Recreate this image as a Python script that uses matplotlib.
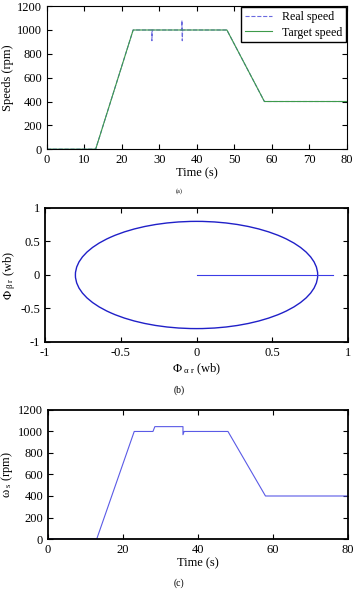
import numpy as np
import matplotlib
matplotlib.use("Agg")
import matplotlib.pyplot as plt
from matplotlib.patches import Ellipse

plt.rcParams['font.family'] = ['Liberation Serif', 'DejaVu Serif']
plt.rcParams['mathtext.fontset'] = 'stix'
plt.rcParams['xtick.direction'] = 'in'
plt.rcParams['ytick.direction'] = 'in'
plt.rcParams['xtick.top'] = True
plt.rcParams['ytick.right'] = True
plt.rcParams['font.size'] = 9

# --- (a) vitesses ---
t_cible = [0, 13, 23, 48, 58, 80]
v_cible = [0, 0, 1000, 1000, 400, 400]
t_reel = [0, 13, 23, 28, 28, 28.1, 36, 36, 36.1, 36.2, 48, 58, 80]
v_reel = [0, 0, 1000, 1000, 910, 1000, 1000, 1080, 910, 1000, 1000, 400, 400]

# --- (b) flux rotorique ---
rayon_flux = 0.8
flux_x = [0, 0.9]
flux_y = [0, 0]

# --- (c) vitesse statorique ---
t_ws = [0, 13, 23, 28, 28.5, 36, 36, 36.3, 48, 58, 80]
v_ws = [0, 0, 1000, 1000, 1045, 1045, 970, 1000, 1000, 400, 400]

fig = plt.figure(figsize=(3.58, 5.92), dpi=100)

# Graphique (a)
ax1 = fig.add_axes([0.131, 0.748, 0.838, 0.2416])
ax1.plot(t_reel, v_reel, '--', color='#6a6adf', lw=0.8, label='Real speed')
ax1.plot(t_cible, v_cible, '-', color='#3d9a4a', lw=0.8, label='Target speed')
ax1.set_xlim(0, 80)
ax1.set_ylim(0, 1200)
ax1.set_xticks(range(0, 81, 10))
ax1.set_yticks(range(0, 1201, 200))
ax1.set_xlabel('Time (s)', labelpad=1)
ax1.set_ylabel('Speeds (rpm)', labelpad=2)
ax1.legend(loc='upper right', fontsize=8.6, fancybox=False, edgecolor='black',
           borderaxespad=0.1, handlelength=2.3, framealpha=1,
           borderpad=0.3, labelspacing=0.3)
fig.text(0.5, 0.677, '(a)', ha='center', va='center', fontsize=4.5)

# Graphique (b)
ax2 = fig.add_axes([0.126, 0.4223, 0.846, 0.2264])
ax2.add_patch(Ellipse((0, 0), 2 * rayon_flux, 2 * rayon_flux, fill=False,
                      color='#2020c8', lw=1.0))
ax2.plot(flux_x, flux_y, color='#3c3ce6', lw=0.8)
ax2.set_xlim(-1, 1)
ax2.set_ylim(-1, 1)
ax2.set_xticks([-1, -0.5, 0, 0.5, 1])
ax2.set_yticks([-1, -0.5, 0, 0.5, 1])
ax2.set_xticklabels(['-1', '-0.5', '0', '0.5', '1'])
ax2.set_yticklabels(['-1', '-0.5', '0', '0.5', '1'])
for s in ax2.spines.values():
    s.set_linewidth(1.3)
ax2.set_xlabel(r'$\mathregular{\Phi_{\ \alpha\ r}}$ (wb)', labelpad=2)
ax2.set_ylabel(r'$\mathregular{\Phi_{\ \beta\ r}}$ (wb)', labelpad=2)
fig.text(0.5, 0.341, '(b)', ha='center', va='center', fontsize=7)

# Graphique (c)
ax3 = fig.add_axes([0.134, 0.0895, 0.838, 0.218])
ax3.plot(t_ws, v_ws, '-', color='#5a5ae6', lw=0.8)
ax3.set_xlim(0, 80)
ax3.set_ylim(0, 1200)
ax3.set_xticks(range(0, 81, 20))
ax3.set_yticks(range(0, 1201, 200))
for s in ax3.spines.values():
    s.set_linewidth(1.3)
ax3.set_xlabel('Time (s)', labelpad=1)
ax3.set_ylabel(r'$\mathregular{\omega_{\ s}}$ (rpm)', labelpad=2)
fig.text(0.5, 0.015, '(c)', ha='center', va='center', fontsize=7)

fig.savefig('out.png', dpi=100)
